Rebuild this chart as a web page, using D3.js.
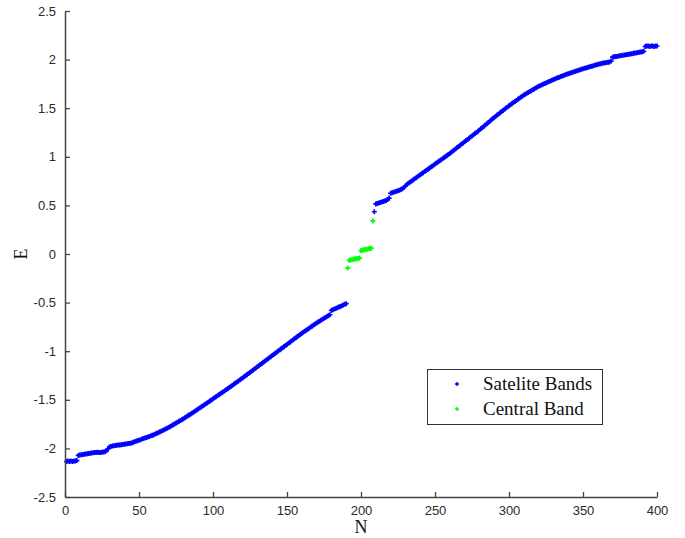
<!DOCTYPE html>
<html>
<head>
<meta charset="utf-8">
<script src="https://cdn.jsdelivr.net/npm/d3@7"></script>
<style>
  html, body { margin: 0; padding: 0; background: #fff; }
  svg { display: block; }
</style>
</head>
<body>
<svg id="chart" width="685" height="538"></svg>
<script>
// ---- data ----
const seriesNames = ["Satelite Bands", "Central Band"];
const xTicks = [0, 50, 100, 150, 200, 250, 300, 350, 400];
const yTicks = [-2.5, -2, -1.5, -1, -0.5, 0, 0.5, 1, 1.5, 2, 2.5];
const xTickLabels = ["0", "50", "100", "150", "200", "250", "300", "350", "400"];
const yTickLabels = ["-2.5", "-2", "-1.5", "-1", "-0.5", "0", "0.5", "1", "1.5", "2", "2.5"];

// Satellite band, lower part: N = 1..190
const satLowStart = 1;
const satLowE = [
  -2.135,-2.13,-2.135,-2.13,-2.135,-2.13,-2.13,-2.125,
  -2.072,-2.068,-2.066,-2.063,-2.060,-2.058,-2.055,-2.052,-2.050,-2.047,-2.045,-2.043,-2.041,-2.040,-2.041,-2.043,-2.040,-2.037,-2.034,-2.025,-2.005,
  -1.985,-1.980,-1.976,-1.973,-1.970,-1.968,-1.966,-1.964,-1.962,-1.960,-1.958,-1.955,-1.952,-1.950,-1.948,-1.945,-1.938,-1.932,-1.926,-1.920,-1.915,
  -1.910,-1.904,-1.899,-1.893,-1.888,-1.882,-1.877,-1.871,-1.866,-1.860,
  -1.853,-1.845,-1.838,-1.830,-1.823,-1.815,-1.808,-1.800,-1.793,-1.785,
  -1.776,-1.767,-1.758,-1.749,-1.740,-1.731,-1.722,-1.713,-1.704,-1.695,
  -1.685,-1.675,-1.665,-1.655,-1.645,-1.635,-1.625,-1.615,-1.605,-1.595,
  -1.585,-1.574,-1.564,-1.553,-1.543,-1.532,-1.522,-1.511,-1.501,-1.490,
  -1.479,-1.469,-1.458,-1.448,-1.437,-1.427,-1.416,-1.406,-1.395,-1.385,
  -1.374,-1.363,-1.352,-1.341,-1.330,-1.319,-1.308,-1.297,-1.286,-1.275,
  -1.264,-1.252,-1.241,-1.229,-1.218,-1.206,-1.195,-1.183,-1.172,-1.160,
  -1.149,-1.137,-1.126,-1.114,-1.103,-1.091,-1.080,-1.068,-1.057,-1.045,
  -1.034,-1.022,-1.011,-0.999,-0.988,-0.976,-0.965,-0.953,-0.942,-0.930,
  -0.919,-0.907,-0.896,-0.884,-0.873,-0.861,-0.850,-0.838,-0.827,-0.815,
  -0.805,-0.794,-0.784,-0.773,-0.763,-0.752,-0.742,-0.731,-0.721,-0.710,
  -0.700,-0.691,-0.681,-0.672,-0.662,-0.653,-0.643,-0.634,-0.625,
  -0.580,-0.574,-0.567,-0.560,-0.553,-0.546,-0.539,-0.532,-0.525,-0.518,-0.511
];

// Central band: N = 191..208
const centralStart = 191;
const centralE = [
  -0.145,
  -0.065,-0.062,-0.058,-0.055,-0.052,-0.049,-0.046,-0.042,
  0.035,0.039,0.043,0.047,0.050,0.053,0.056,0.060,
  0.340
];

// Satellite band, upper part: N = 209..400
const satHighStart = 209;
const satHighE = [
  0.435,
  0.515,0.520,0.525,0.530,0.535,0.540,0.545,0.550,0.560,0.575,
  0.625,0.630,0.635,0.640,0.645,0.650,0.656,0.663,0.672,0.685,0.700,0.715,0.727,
  0.738,0.749,0.760,0.771,0.782,0.793,0.804,0.815,
  0.826,0.837,0.848,0.859,0.870,0.881,0.892,0.903,0.914,0.925,
  0.936,0.947,0.958,0.968,0.979,0.990,1.001,1.012,1.023,1.035,
  1.047,1.059,1.071,1.083,1.095,1.107,1.119,1.131,1.143,1.155,
  1.167,1.179,1.191,1.203,1.215,1.227,1.239,1.251,1.263,1.275,
  1.288,1.301,1.314,1.327,1.340,1.353,1.366,1.379,1.392,1.405,
  1.417,1.429,1.441,1.453,1.465,1.477,1.489,1.501,1.513,1.525,
  1.536,1.547,1.558,1.569,1.580,1.591,1.602,1.613,1.624,1.635,
  1.644,1.653,1.662,1.671,1.680,1.689,1.698,1.707,1.716,1.725,
  1.732,1.739,1.746,1.753,1.760,1.767,1.774,1.781,1.788,1.795,
  1.801,1.807,1.813,1.819,1.825,1.831,1.837,1.843,1.849,1.855,
  1.860,1.865,1.870,1.875,1.880,1.885,1.890,1.895,1.900,1.905,
  1.910,1.914,1.919,1.923,1.928,1.932,1.937,1.941,1.946,1.950,
  1.954,1.958,1.962,1.965,1.968,1.971,1.973,1.975,1.985,
  2.025,2.028,2.031,2.033,2.036,2.039,2.042,2.045,2.047,2.050,2.053,2.056,2.058,2.061,2.064,2.067,2.069,2.072,2.075,2.078,2.080,2.085,
  2.135,2.140,2.140,2.135,2.140,2.140,2.135,2.140,2.140
];

// ---- layout ----
const svg = d3.select("#chart");
const plotLeft = 65, plotRight = 657, plotTop = 11, plotBottom = 497;
const x = d3.scaleLinear().domain([0, 400]).range([plotLeft, plotRight]);
const y = d3.scaleLinear().domain([-2.5, 2.5]).range([plotBottom, plotTop]);

svg.append("rect").attr("width", 685).attr("height", 538).attr("fill", "#fff");

const blue = "#0000ff", green = "#00ff00";
const marker = d3.symbol().type(d3.symbolCross).size(14);

function toPts(arr, start) { return arr.map((e, i) => ({ n: start + i, e })); }
const satPts = toPts(satLowE, satLowStart).concat(toPts(satHighE, satHighStart));
const cenPts = toPts(centralE, centralStart);

const gPts = svg.append("g");
gPts.selectAll("path.sat").data(satPts).join("path")
  .attr("class", "sat")
  .attr("d", marker)
  .attr("transform", d => `translate(${x(d.n)},${y(d.e)})`)
  .attr("fill", blue);
gPts.selectAll("path.cen").data(cenPts).join("path")
  .attr("class", "cen")
  .attr("d", marker)
  .attr("transform", d => `translate(${x(d.n)},${y(d.e)})`)
  .attr("fill", green);

// ---- axes ----
const axisColor = "#444";
const xAxis = d3.axisBottom(x).tickValues(xTicks)
  .tickFormat((d, i) => xTickLabels[i]).tickSizeInner(-5).tickSizeOuter(0).tickPadding(9);
const yAxis = d3.axisLeft(y).tickValues(yTicks)
  .tickFormat((d, i) => yTickLabels[i]).tickSizeInner(-5).tickSizeOuter(0).tickPadding(9);

const gx = svg.append("g").attr("transform", `translate(0,${plotBottom})`).call(xAxis);
const gy = svg.append("g").attr("transform", `translate(${plotLeft},0)`).call(yAxis);
[gx, gy].forEach(g => {
  g.select(".domain").attr("stroke", axisColor).attr("stroke-width", 1.5);
  g.selectAll(".tick line").attr("stroke", axisColor).attr("stroke-width", 1.3);
  g.selectAll(".tick text")
    .attr("fill", "#2a2a2a")
    .style("font-family", "'Liberation Sans', Arial, sans-serif")
    .style("font-size", "13px");
});
gx.selectAll(".tick text").attr("dy", "0.71em");

// axis titles
const serif = "'Liberation Serif', 'Times New Roman', Times, serif";
svg.append("text")
  .attr("x", 361).attr("y", 533)
  .attr("text-anchor", "middle")
  .attr("font-family", serif)
  .attr("font-size", 18)
  .attr("fill", "#111")
  .text("N");
svg.append("text")
  .attr("transform", "translate(27,254) rotate(-90)")
  .attr("text-anchor", "middle")
  .attr("font-family", serif)
  .attr("font-size", 18)
  .attr("fill", "#111")
  .text("E");

// ---- legend ----
const leg = svg.append("g");
leg.append("rect")
  .attr("x", 427.5).attr("y", 369.5).attr("width", 175).attr("height", 55)
  .attr("fill", "#fff").attr("stroke", "#333").attr("stroke-width", 1);
const legColors = [blue, green];
const legMarker = d3.symbol().type(d3.symbolCross).size(10);
seriesNames.forEach((name, i) => {
  const cy = 384 + i * 25;
  leg.append("path").attr("d", legMarker)
    .attr("transform", `translate(457,${cy})`).attr("fill", legColors[i]);
  leg.append("text")
    .attr("x", 483).attr("y", cy + 6)
    .attr("font-family", serif)
    .attr("font-size", 19)
    .attr("fill", "#111")
    .text(name);
});
</script>
</body>
</html>
